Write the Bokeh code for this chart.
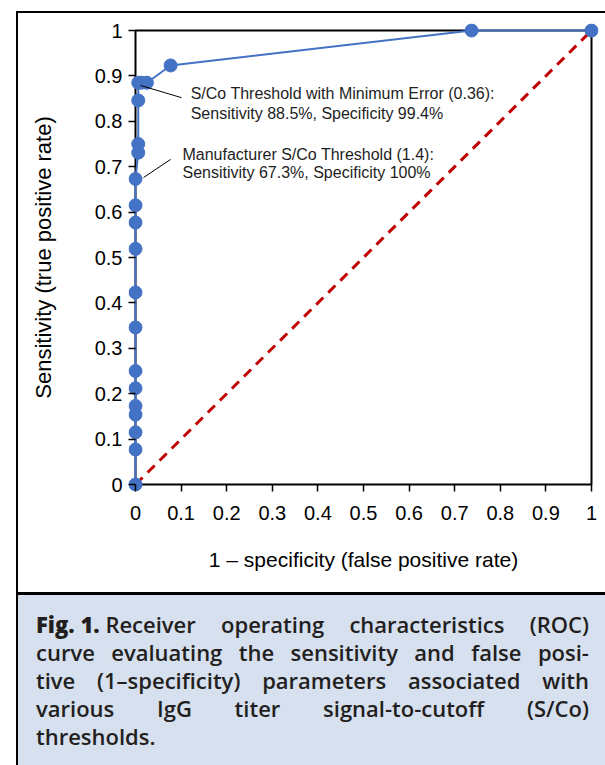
from bokeh.plotting import figure
from bokeh.models import FixedTicker, Div, ColumnDataSource
from bokeh.layouts import column, row
from bokeh.core.properties import value
from bokeh.embed import file_html
from bokeh.resources import INLINE

# ---- data ----
fpr = [0, 0, 0, 0, 0, 0, 0, 0, 0, 0, 0, 0, 0,
       0.006, 0.006, 0.006, 0.006, 0.013, 0.025, 0.077, 0.737, 1.0]
tpr = [0, 0.077, 0.115, 0.154, 0.173, 0.212, 0.25, 0.346, 0.423, 0.519,
       0.577, 0.615, 0.673, 0.731, 0.75, 0.846, 0.885, 0.885, 0.885,
       0.923, 1.0, 1.0]
diag_x = [0, 1]
diag_y = [0, 1]
axis_lo, axis_hi = 0.0, 1.0
ticks = [0, 0.1, 0.2, 0.3, 0.4, 0.5, 0.6, 0.7, 0.8, 0.9, 1]
tick_labels = ["0", "0.1", "0.2", "0.3", "0.4", "0.5", "0.6", "0.7", "0.8", "0.9", "1"]

callout_lines = [
    ["S/Co Threshold with Minimum Error (0.36):", "Sensitivity 88.5%, Specificity 99.4%"],
    ["Manufacturer S/Co Threshold (1.4):", "Sensitivity 67.3%, Specificity 100%"],
]
leader_start = [(0.011, 0.879), (0.0175, 0.676)]
leader_end = [(0.101, 0.852), (0.077, 0.716)]
text_pos = [(0.121, 0.861), (0.103, 0.727)]
line_gap = [0.044, 0.04]

caption_bold = "Fig. 1."
caption_lines = [
    "Receiver operating characteristics (ROC)",
    "curve evaluating the sensitivity and false posi-",
    "tive (1\u2013specificity) parameters associated with",
    "various IgG titer signal-to-cutoff (S/Co)",
    "thresholds.",
]

PAGE_W = 605
TOP_H = 14
LEFT_W = 19
FIG_W = PAGE_W - LEFT_W
FIG_H = 578
CAP_H = 173
FONT = "Liberation Sans"
PAD = 7  # px of room around the 0..1 box so markers are not cut
UNIT_X = 456
UNIT_Y = 454
dx = PAD / UNIT_X
dy = PAD / UNIT_Y

p = figure(width=FIG_W, height=FIG_H,
           x_range=(axis_lo - dx, axis_hi + dx), y_range=(axis_lo - dy, axis_hi + dy),
           output_backend="svg", toolbar_location=None,
           min_border_left=109, min_border_right=7,
           min_border_top=9, min_border_bottom=101)
p.grid.visible = False
p.background_fill_color = "white"
p.border_fill_color = "white"
p.outline_line_color = None

for ax in (p.xaxis[0], p.yaxis[0]):
    ax.bounds = (axis_lo, axis_hi)
    ax.ticker = FixedTicker(ticks=ticks)
    ax.major_label_overrides = {t: l for t, l in zip(ticks, tick_labels)}
    ax.minor_tick_line_color = None
    ax.major_tick_in = PAD
    ax.major_tick_out = 0
    ax.major_tick_line_color = "black"
    ax.major_tick_line_width = 1.5
    ax.axis_line_color = None
    ax.major_label_text_font = FONT
    ax.major_label_text_font_size = "20px"
    ax.major_label_text_color = "black"
    ax.axis_label_text_font = FONT
    ax.axis_label_text_font_style = "normal"
    ax.axis_label_text_color = "black"

p.xaxis.axis_label = "1 \u2013 specificity (false positive rate)"
p.xaxis.axis_label_text_font_size = "21px"
p.xaxis.major_label_standoff = 14
p.xaxis.axis_label_standoff = 25
p.yaxis.axis_label = "Sensitivity (true positive rate)"
p.yaxis.axis_label_text_font_size = "22px"
p.yaxis.major_label_standoff = 6
p.yaxis.axis_label_standoff = 36

# the plot box (axis lines at 0, top and right edges at 1)
p.line([axis_lo, axis_hi, axis_hi, axis_lo, axis_lo],
       [axis_lo, axis_lo, axis_hi, axis_hi, axis_lo],
       line_color="black", line_width=2)

p.line(diag_x, diag_y, line_color="#c00000", line_width=3, line_dash="10 7")
src = ColumnDataSource(dict(x=fpr, y=tpr))
p.line("x", "y", source=src, line_color="#4472c4", line_width=2)
p.scatter("x", "y", source=src, size=13, fill_color="#4472c4",
          line_color="#4472c4")

for i in range(len(callout_lines)):
    (x0, y0), (x1, y1) = leader_start[i], leader_end[i]
    p.line([x0, x1], [y0, y1], line_color="black", line_width=1)
    tx, ty = text_pos[i]
    p.text([tx, tx], [ty, ty - line_gap[i]], text=callout_lines[i],
           text_font=value(FONT), text_font_size="16px",
           text_color="#1e1e1e", text_baseline="alphabetic", text_align="left")

# ---- outer frame pieces (HTML) ----
top_div = Div(
    text=('<div style="margin-left:16px;margin-top:11px;height:3px;width:589px;'
          'box-sizing:border-box;border-top:2.5px solid #000;border-left:2.5px solid #000;"></div>'),
    width=PAGE_W, height=TOP_H, margin=(0, 0, 0, 0))
left_div = Div(
    text=(f'<div style="margin-left:16px;width:0;height:{FIG_H}px;'
          'border-left:2.5px solid #000;"></div>'),
    width=LEFT_W, height=FIG_H, margin=(0, 0, 0, 0))


def line_html(words, last=False):
    just = "flex-start" if last else "space-between"
    spans = "".join(f"<span>{w}</span>" for w in words)
    return (f'<div style="display:flex;justify-content:{just};gap:5px;white-space:nowrap;'
            f'height:28px;line-height:28px;">{spans}</div>')


rows = []
for k, ln in enumerate(caption_lines):
    words = ln.split(" ")
    if k == 0:
        words = [f'<b style="font-weight:800">{caption_bold}</b>&nbsp;{words[0]}'] + words[1:]
    rows.append(line_html(words, last=(k == len(caption_lines) - 1)))

cap_html = (
    f'<div style="margin-left:16px;width:{PAGE_W-16}px;height:{CAP_H}px;box-sizing:border-box;'
    'background:#d7e0ef;border-left:2.5px solid #000;border-top:3px solid #000;'
    "font-family:'Open Sans',sans-serif;font-size:22px;font-weight:600;color:#231f20;"
    'padding:15px 16px 0 18px;">' + "".join(rows) + "</div>"
)
cap = Div(text=cap_html, width=PAGE_W, height=CAP_H, margin=(0, 0, 0, 0))

layout = column(top_div, row(left_div, p, spacing=0), cap, spacing=0)
open("out.html", "w").write(file_html(layout, INLINE))
